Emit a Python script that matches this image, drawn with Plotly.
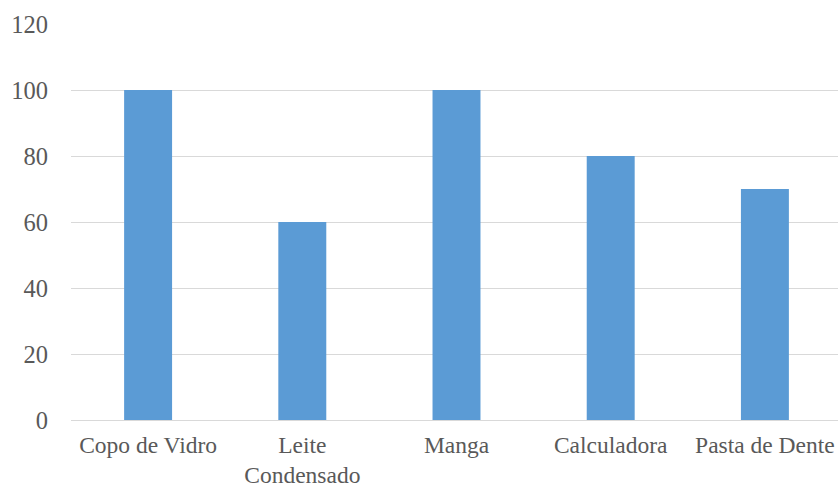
import plotly.graph_objects as go

categories = ["Copo de Vidro", "Leite<br>Condensado", "Manga", "Calculadora", "Pasta de Dente"]
values = [100, 60, 100, 80, 70]
y_ticks = [0, 20, 40, 60, 80, 100, 120]

SERIF = "'Liberation Serif', 'Times New Roman', Times, serif"

fig = go.Figure(go.Bar(x=list(range(len(categories))), y=values,
                       marker=dict(color="#5b9bd5", line=dict(width=0))))

fig.update_layout(
    width=838, height=486,
    margin=dict(l=71, r=0, t=24, b=66),
    paper_bgcolor="white", plot_bgcolor="white",
    bargap=0.689,
    showlegend=False,
    font=dict(family=SERIF, color="#595959"),
)
fig.update_xaxes(
    tickmode="array", tickvals=list(range(len(categories))), ticktext=categories,
    range=[-0.5, 4.474], showgrid=False, showline=False, zeroline=False,
    tickfont=dict(size=23.5, family=SERIF, color="#595959"),
    ticks="", ticklabelstandoff=8, automargin=False,
)
fig.update_yaxes(
    range=[0, 120], tickvals=y_ticks, showgrid=True, gridcolor="#d9d9d9", gridwidth=1,
    zeroline=True, zerolinecolor="#d9d9d9", zerolinewidth=1, showline=False,
    tickfont=dict(size=24.5, family=SERIF, color="#595959"),
    ticks="", ticklabelstandoff=22, automargin=False,
)

fig.write_html("out.html")
